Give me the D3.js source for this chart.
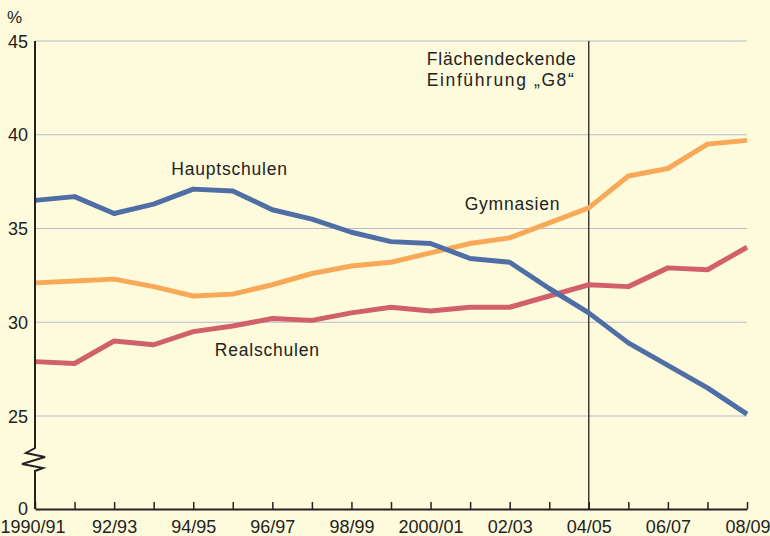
<!DOCTYPE html>
<html>
<head>
<meta charset="utf-8">
<script src="https://cdn.jsdelivr.net/npm/d3@7"></script>
<style>
  body { margin: 0; background: #fdfbdc; }
  svg { display: block; font-family: "Liberation Sans", Arial, sans-serif; }
</style>
</head>
<body>
<div id="chart"></div>
<script>
var width = 770
var height = 536

// Data
var years = ["1990/91","91/92","92/93","93/94","94/95","95/96","96/97","97/98","98/99","99/00",
             "2000/01","01/02","02/03","03/04","04/05","05/06","06/07","07/08","08/09"];
var tickLabels = ["1990/91","92/93","94/95","96/97","98/99","2000/01","02/03","04/05","06/07","08/09"];
var hauptschulen = [36.5, 36.7, 35.8, 36.3, 37.1, 37.0, 36.0, 35.5, 34.8, 34.3, 34.2, 33.4, 33.2, 31.8, 30.5, 28.9, 27.7, 26.5, 25.1];
var gymnasien = [32.1, 32.2, 32.3, 31.9, 31.4, 31.5, 32.0, 32.6, 33.0, 33.2, 33.7, 34.2, 34.5, 35.3, 36.1, 37.8, 38.2, 39.5, 39.7];
var realschulen = [27.9, 27.8, 29.0, 28.8, 29.5, 29.8, 30.2, 30.1, 30.5, 30.8, 30.6, 30.8, 30.8, 31.4, 32.0, 31.9, 32.9, 32.8, 34.0];
var yTicks = [0, 25, 30, 35, 40, 45];
var g8Year = "04/05";

var x_scale = d3.scalePoint()
    .domain(years)
    .range([35, 747]);

// broken axis: 0 sits just below 25
var y_scale = d3.scaleLinear()
    .domain([0, 25, 45])
    .range([509, 416, 41]);

var svg = d3.select("#chart")
    .append("svg")
    .attr("width", width)
    .attr("height", height)
    .style("background-color", "#fdfbdc");

// Gridlines
svg.append("g")
    .selectAll("line")
    .data(yTicks.filter(function(d){ return d > 0; }))
    .enter()
    .append("line")
    .attr("x1", 35)
    .attr("x2", 747)
    .attr("y1", function(d){ return y_scale(d); })
    .attr("y2", function(d){ return y_scale(d); })
    .attr("stroke", "#b9bccf")
    .attr("stroke-width", 1.2);

// G8 marker
svg.append("line")
    .attr("x1", x_scale(g8Year))
    .attr("x2", x_scale(g8Year))
    .attr("y1", y_scale(45))
    .attr("y2", y_scale(0))
    .attr("stroke", "#222")
    .attr("stroke-width", 1.3);

svg.append("text")
    .attr("y", 65)
    .attr("font-size", 17.5)
    .attr("fill", "#222")
    .selectAll("tspan")
    .data(["Flächendeckende", "Einführung „G8“"])
    .enter()
    .append("tspan")
    .attr("x", x_scale(g8Year) - 162)
    .attr("dy", function(d, i){ return i ? 21 : 0; })
    .attr("textLength", function(d, i){ return i ? 147 : 149; })
    .attr("lengthAdjust", "spacing")
    .text(function(d){ return d; });

// Lines
var line = d3.line()
    .x(function(d, i){ return x_scale(years[i]); })
    .y(function(d){ return y_scale(d); });

var series = [
    {values: gymnasien, color: "#f8a957"},
    {values: realschulen, color: "#d1606a"},
    {values: hauptschulen, color: "#4e6ea5"}
];

svg.append("g")
    .selectAll("path")
    .data(series)
    .enter()
    .append("path")
    .attr("d", function(d){ return line(d.values); })
    .attr("fill", "none")
    .attr("stroke", function(d){ return d.color; })
    .attr("stroke-width", 5)
    .attr("stroke-linejoin", "round");

// Series labels
var labels = [
    {text: "Hauptschulen", x: "94/95", y: 37.85, dx: -22},
    {text: "Gymnasien", x: "02/03", y: 36.0, dx: -45},
    {text: "Realschulen", x: "95/96", y: 28.2, dx: -18}
];
svg.append("g")
    .selectAll("text")
    .data(labels)
    .enter()
    .append("text")
    .attr("x", function(d){ return x_scale(d.x) + d.dx; })
    .attr("y", function(d){ return y_scale(d.y); })
    .attr("font-size", 17.5)
    .attr("letter-spacing", 0.8)
    .attr("fill", "#222")
    .text(function(d){ return d.text; });

// Y axis with break
var axisColor = "#222";
var yTop = y_scale(45), yBot = y_scale(0), x0 = x_scale(years[0]);
svg.append("path")
    .attr("d", "M" + x0 + "," + yTop + "V448" +
        "L26,453L45,457L22,464L43,468L" + x0 + ",471V" + yBot)
    .attr("fill", "none")
    .attr("stroke", axisColor)
    .attr("stroke-width", 2)
    .attr("stroke-linejoin", "miter");

svg.append("g")
    .selectAll("text")
    .data(yTicks)
    .enter()
    .append("text")
    .attr("x", 28)
    .attr("y", function(d){ return y_scale(d) + (d === 0 ? 5.5 : 6.5); })
    .attr("text-anchor", "end")
    .attr("font-size", 18)
    .attr("fill", "#222")
    .text(function(d){ return d; });

svg.append("text")
    .attr("x", 7)
    .attr("y", 23)
    .attr("font-size", 17)
    .attr("fill", "#222")
    .text("%");

// X axis
var xAxis = d3.axisBottom(x_scale)
    .tickSizeInner(-7)
    .tickSizeOuter(0)
    .tickFormat(function(d){ return tickLabels.indexOf(d) >= 0 ? d : ""; });

var gx = svg.append("g")
    .attr("transform", "translate(0," + yBot + ")")
    .call(xAxis);
gx.select(".domain").attr("stroke", axisColor).attr("stroke-width", 2);
gx.selectAll(".tick line").attr("stroke", axisColor).attr("stroke-width", 1.5);
gx.selectAll(".tick text")
    .attr("y", 11)
    .attr("dy", "0.71em")
    .attr("font-size", 18)
    .attr("font-family", "Liberation Sans, Arial, sans-serif")
    .attr("fill", "#222");
gx.selectAll(".tick text")
    .filter(function(d){ return d === "1990/91"; })
    .attr("text-anchor", "start")
    .attr("dx", -35);
gx.selectAll(".tick text")
    .filter(function(d){ return d === "08/09"; })
    .attr("text-anchor", "end")
    .attr("dx", 23);
</script>
</body>
</html>
